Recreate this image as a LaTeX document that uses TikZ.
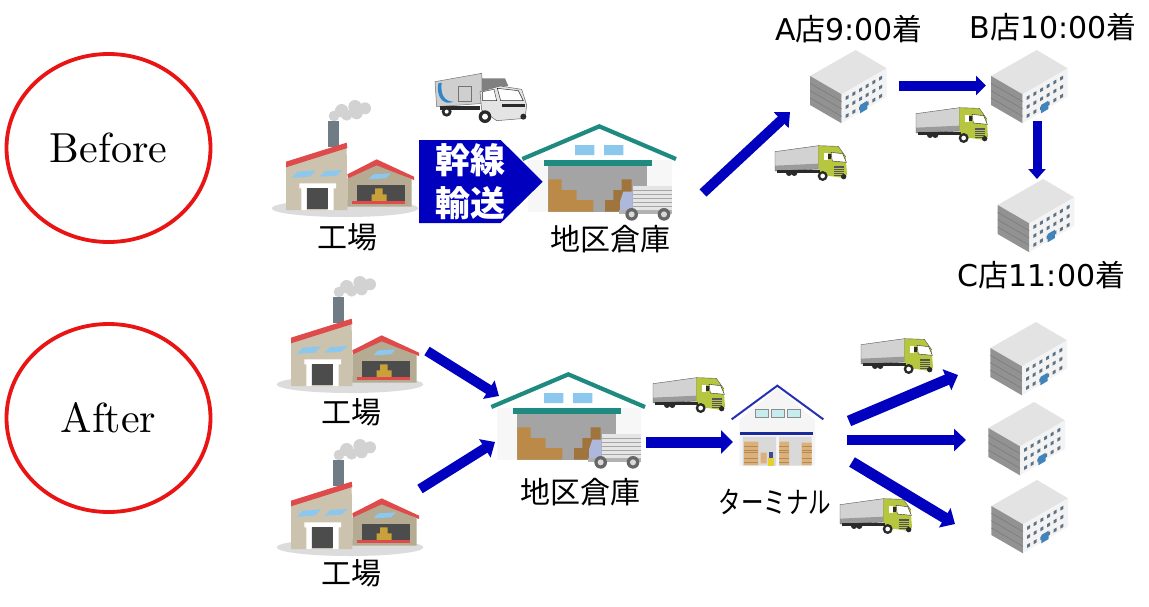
\documentclass[tikz,border=0pt]{standalone}
\usepackage{fontspec}
\usepackage{graphicx}
\usetikzlibrary{arrows.meta,shapes.geometric}
\newfontfamily\cjk{Noto Sans CJK JP}
\newfontfamily\dv{DejaVu Sans}
\newfontfamily\lmten{lmroman10-regular.otf}
\definecolor{flow}{HTML}{0000BE}
\definecolor{redline}{HTML}{E91414}
\definecolor{tan1}{HTML}{CBC3AD}
\definecolor{tan2}{HTML}{B5AB93}
\definecolor{roofred}{HTML}{DF4B4B}
\definecolor{winblue}{HTML}{8CC8EE}
\definecolor{darkdoor}{HTML}{4C4C4C}
\definecolor{box}{HTML}{BC8A48}
\definecolor{teal1}{HTML}{1E8A80}
\definecolor{lime}{HTML}{B6C63E}
\definecolor{chim}{HTML}{6F7C85}
\definecolor{vanblue}{HTML}{2E86C8}
\definecolor{cabblue}{HTML}{AEB8DC}
\definecolor{shopwin}{HTML}{5F7386}
\definecolor{shopdoor}{HTML}{3F84BC}
\definecolor{hubroof}{HTML}{2830B4}
\definecolor{hubwin}{HTML}{C6ECEE}
\definecolor{hubstrip}{HTML}{1A2A9A}
\definecolor{pallet}{HTML}{DDB078}
\definecolor{palletd}{HTML}{B08A5A}
\definecolor{fork}{HTML}{E6D030}
\definecolor{forkp}{HTML}{3C4A90}
\definecolor{smoke}{HTML}{D2D2D2}
\definecolor{ground}{HTML}{DCDCDC}
\definecolor{doorgray}{HTML}{A4A4A4}
\definecolor{shoptop}{HTML}{E3E3E3}
\definecolor{shopleft}{HTML}{929292}
\definecolor{shopline}{HTML}{797979}
\definecolor{shopright}{HTML}{F3F3F3}
\definecolor{rigbox}{HTML}{D2D2D2}
\definecolor{rigstrip}{HTML}{9B9B9B}
\definecolor{rigline}{HTML}{555555}
\definecolor{dk}{HTML}{2A2A2A}
\definecolor{vanbox}{HTML}{CFCFCF}
\definecolor{vancab}{HTML}{E4E4E4}
\tikzset{
 flowline/.style={draw=flow,line width=#1},
 lbl/.style={font=\cjk\fontsize{30}{31}\selectfont,inner sep=0pt,text=black},
 casering/.style={ellipse,draw=redline,line width=3.8pt,fill=white,minimum width=204pt,minimum height=188pt,inner sep=0pt,font=\lmten\fontsize{42}{44}\selectfont},
 factory/.pic={
  \fill[ground] (255,445) ellipse [x radius=220,y radius=26];
  \fill[smoke] (222,168) circle (16) (245,152) circle (20) (285,140) circle (20) (315,145) circle (18) (290,160) circle (18) (260,165) circle (17);
  \fill[chim] (205,182) rectangle (236,262);
  \fill[tan1] (78,320) -- (260,262) -- (262,450) -- (78,450) -- cycle;
  \fill[tan2] (262,355) -- (350,312) -- (455,358) -- (455,440) -- (262,440) -- cycle;
  \fill[roofred] (78,305) -- (260,248) -- (262,264) -- (78,322) -- cycle;
  \fill[roofred] (262,343) -- (350,298) -- (462,350) -- (462,360) -- (350,316) -- (264,355) -- cycle;
  \fill[winblue] (95,353) -- (113,335) -- (168,331) -- (150,350) -- cycle;
  \fill[winblue] (178,350) -- (195,333) -- (247,330) -- (230,347) -- cycle;
  \fill[winblue] (325,358) -- (340,343) -- (392,340) -- (378,355) -- cycle;
  \fill[white] (118,370) rectangle (228,385) (124,385) rectangle (140,450) (203,385) rectangle (221,450);
  \fill[darkdoor] (140,385) rectangle (203,448);
  \fill[darkdoor] (290,375) rectangle (435,423);
  \fill[box!80!yellow] (335,403) rectangle (380,423) (345,385) rectangle (368,403);
  \fill[roofred] (277,422) rectangle (435,432);
 },
 depot/.pic={
  \fill[black!3] (805,300) rectangle (1235,455);
  \fill[winblue] (945,255) rectangle (1003,285) (1032,255) rectangle (1090,285);
  \draw[teal1,line width=4.2pt,miter limit=10] (787,297) -- (1018,199) -- (1248,297);
  \fill[teal1] (852,300) rectangle (1175,318);
  \fill[doorgray] (865,318) rectangle (1160,455);
  \fill[box] (865,358) -- (905,358) -- (905,390) -- (950,390) -- (950,420) -- (1000,420) -- (1000,455) -- (865,455) -- cycle;
  \fill[box!85!black] (1035,455) -- (1035,420) -- (1060,420) -- (1060,390) -- (1085,390) -- (1085,358) -- (1115,358) -- (1115,455) -- cycle;
  \fill[black!10] (1118,378) rectangle (1235,452);
  \foreach \k in {390,402,...,444} \draw[black!35,line width=.4pt] (1118,\k) -- (1235,\k);
  \fill[cabblue] (1118,395) -- (1090,395) -- (1080,425) -- (1080,452) -- (1118,452) -- cycle;
  \fill[black!30] (1078,450) rectangle (1235,462);
  \fill[black!60] (1115,463) circle (19) (1212,463) circle (19);
  \fill[black!15] (1115,463) circle (9) (1212,463) circle (9);
 },
 shop/.pic={
  \fill[shoptop] (-137,78) -- (0,0) -- (93,55) -- (-42,133) -- cycle;
  \fill[shopleft] (-137,78) -- (-42,133) -- (-42,220) -- (-137,165) -- cycle;
  \fill[shopright] (-42,133) -- (93,55) -- (93,140) -- (-42,220) -- cycle;
  \foreach \j in {1,2,3} \draw[shopline,line width=.5pt] (-137,78+\j*22) -- (-42,133+\j*22);
  \foreach \i in {0,...,5} \foreach \j in {0,1,2}
   \fill[shopwin] ({-30+\i*20},{140-\i*11.6+\j*27}) -- +(9,-5) -- +(9,5) -- +(0,10) -- cycle;
  \fill[shopdoor] (13,165) -- (35,152) -- (35,177) -- (13,190) -- cycle;
 },
 rig/.pic={
  \fill[rigbox] (0,20) -- (130,2) -- (130,72) -- (0,78) -- cycle;
  \fill[rigstrip] (0,62) -- (130,56) -- (130,72) -- (0,78) -- cycle;
  \draw[rigline,line width=.4pt] (0,20) -- (130,2) -- (130,72) -- (0,78) -- cycle;
  \fill[lime] (130,2) -- (190,4) -- (212,35) -- (216,90) -- (200,98) -- (130,88) -- cycle;
  \draw[rigline,line width=.4pt] (130,2) -- (190,4) -- (212,35);
  \fill[white] (168,22) -- (203,26) -- (214,52) -- (172,48) -- cycle;
  \draw[dk,line width=.4pt] (168,22) -- (203,26) -- (214,52) -- (172,48) -- cycle;
  \fill[white] (146,24) rectangle (160,46);
  \fill[dk] (160,26) rectangle (168,42);
  \fill[rigline] (178,62) rectangle (208,92);
  \foreach \k in {68,74,80,86} \draw[lime,line width=.3pt] (178,\k) -- (208,\k);
  \fill[dk] (5,76) rectangle (135,84);
  \fill[dk] (42,84) circle (9) (58,84) circle (9) (143,93) circle (15) (206,95) circle (8);
  \fill[white] (143,93) circle (7);
 },
 van/.pic={
  \fill[vanbox] (525,65) -- (665,40) -- (672,130) -- (530,140) -- cycle;
  \draw[black!55,line width=.5pt] (525,65) -- (665,40) -- (672,130) -- (530,140) -- cycle;
  \draw[black!55,line width=.5pt] (595,80) rectangle (635,125);
  \fill[vanblue] (535,70) .. controls (528,110) and (550,138) .. (580,125) .. controls (555,125) and (540,105) .. (545,68) -- cycle;
  \fill[black!50] (665,55) -- (735,55) -- (745,78) -- (665,92) -- cycle;
  \fill[vancab] (660,95) -- (720,78) -- (785,88) -- (800,135) -- (795,175) -- (710,182) -- (665,150) -- cycle;
  \draw[black!60,line width=.5pt] (660,95) -- (720,78) -- (785,88) -- (800,135) -- (795,175) -- (710,182) -- (665,150) -- cycle;
  \fill[white] (712,85) -- (775,92) -- (790,122) -- (722,122) -- cycle;
  \draw[dk,line width=.5pt] (712,85) -- (775,92) -- (790,122) -- (722,122) -- cycle;
  \fill[white] (668,95) -- (702,88) -- (710,122) -- (668,122) -- cycle;
  \draw[dk,line width=.4pt] (668,95) -- (702,88) -- (710,122) -- (668,122) -- cycle;
  \fill[dk] (725,132) rectangle (795,142);
  \fill[dk] (540,138) rectangle (660,150);
  \fill[dk] (560,155) circle (15) (675,170) circle (19) (790,170) circle (9);
  \fill[white] (675,170) circle (9) (560,155) circle (6);
 },
 hub/.pic={
  \fill[black!4] (298,300) -- (412,205) -- (525,300) -- (525,437) -- (298,437) -- cycle;
  \draw[hubroof,line width=2pt,miter limit=10] (275,298) -- (412,197) -- (550,298);
  \foreach \q in {347,395,442} {\fill[hubwin] (\q,267) rectangle +(38,25); \draw[black!45,line width=.4pt] (\q,267) rectangle +(38,25);}
  \fill[hubstrip] (300,335) rectangle (520,344);
  \fill[black!15] (308,350) rectangle (408,437) (417,350) rectangle (515,437);
  \fill[pallet] (312,365) rectangle (355,435) (418,365) rectangle (447,435) (485,368) rectangle (515,435) (362,398) rectangle (380,430);
  \foreach \k in {378,390,398,415,428} \draw[palletd,line width=.5pt] (312,\k) -- (355,\k) (418,\k) -- (447,\k) (485,\k) -- (515,\k);
  \fill[fork] (383,415) rectangle (403,437);
  \fill[forkp] (388,395) rectangle (400,415);
 }
}
\begin{document}
\begin{tikzpicture}[x=1pt,y=-1pt]
\useasboundingbox (0,0) rectangle (1149,606);
\fill[white] (0,0) rectangle (1149,606);
% case rings
\node[casering] (before) at (108.5,148) {\raisebox{-2pt}{Before}};
\node[casering] (after) at (108.5,418) {\raisebox{-2pt}{After}};
% Before row
\pic[scale=1/3] at (260,60) {factory};
\pic[scale=1/3] at (260,60) {van};
\pic[scale=1/3] at (260,60) {depot};
\pic[scale=1/3] at (855.7,50) {shop};
\pic[scale=1/3] at (1036.7,50) {shop};
\pic[scale=1/3] at (1043.3,179) {shop};
\pic[scale=1/3] at (775,145) {rig};
\pic[scale=1/3] at (916,107) {rig};
% After row
\pic[scale=1/3] at (265,236) {factory};
\pic[scale=1/3] at (265,399) {factory};
\pic[scale=1/3] at (229,308) {depot};
\pic[scale=1/3] at (640,320) {hub};
\pic[scale=1/3] at (653,377) {rig};
\pic[scale=1/3] at (861,338) {rig};
\pic[scale=1/3] at (840,498) {rig};
\pic[scale=1/3] at (1036,322) {shop};
\pic[scale=1/3] at (1034,402) {shop};
\pic[scale=1/3] at (1037,480) {shop};
% trunk block
\fill[flow] (419,140) -- (500.7,140) -- (542.7,181.7) -- (500.7,223) -- (419,223) -- cycle;
\node[font=\cjk\bfseries\fontsize{35}{35}\selectfont,text=white,inner sep=0pt] (kansen) at (470,160) {幹線};
\node[font=\cjk\bfseries\fontsize{35}{35}\selectfont,text=white,inner sep=0pt] (yuso) at (470,203) {輸送};
% labels
\node[lbl] (l1) at (347,237) {工場};
\node[lbl] (l2) at (610.5,239) {地区倉庫};
\node[lbl] (l3) at (849,29) {{\dv A}店{\dv 9:00}着};
\node[lbl] (l4) at (1053,27) {{\dv B}店{\dv 10:00}着};
\node[lbl] (l5) at (1041.5,275) {{\dv C}店{\dv 11:00}着};
\node[lbl] (l6) at (351,412) {工場};
\node[lbl] (l7) at (351,573) {工場};
\node[lbl] (l8) at (580,492) {地区倉庫};
\node[lbl] (l9) at (775,502) {\scalebox{.75}[1]{ターミナル}};
% flow endpoints
\coordinate (a1) at (703,193); \coordinate (a2) at (790,112);
\coordinate (b1) at (899,85.5); \coordinate (b2) at (986,85.5);
\coordinate (c1) at (1037,121); \coordinate (c2) at (1037,179);
\coordinate (d1) at (427,351); \coordinate (d2) at (499,396);
\coordinate (e1) at (420,489); \coordinate (e2) at (495,442);
\coordinate (f1) at (646,442); \coordinate (f2) at (733,442);
\coordinate (g1) at (849,421); \coordinate (g2) at (958,375);
\coordinate (h1) at (847,440); \coordinate (h2) at (966,440);
\coordinate (i1) at (852,462); \coordinate (i2) at (955,524);
\draw[flowline=10pt,-{Triangle[width=21pt,length=12pt]}] (a1) -- (a2);
\draw[flowline=10pt,-{Triangle[width=19pt,length=10pt]}] (b1) -- (b2);
\draw[flowline=9pt,-{Triangle[width=17pt,length=10pt]}] (c1) -- (c2);
\draw[flowline=10pt,-{Triangle[width=21pt,length=12pt]}] (d1) -- (d2);
\draw[flowline=10pt,-{Triangle[width=21pt,length=12pt]}] (e1) -- (e2);
\draw[flowline=11pt,-{Triangle[width=23pt,length=12pt]}] (f1) -- (f2);
\draw[flowline=11pt,-{Triangle[width=22pt,length=12pt]}] (g1) -- (g2);
\draw[flowline=10pt,-{Triangle[width=22pt,length=12pt]}] (h1) -- (h2);
\draw[flowline=11pt,-{Triangle[width=22pt,length=12pt]}] (i1) -- (i2);
\end{tikzpicture}
\end{document}
